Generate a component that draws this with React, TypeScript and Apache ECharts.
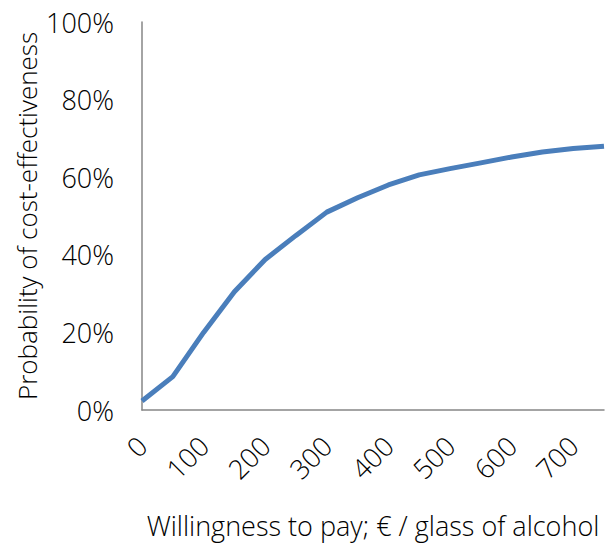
import React, { useEffect, useRef } from "react";
import * as echarts from "echarts";

const categories = ["0", "50", "100", "150", "200", "250", "300", "350", "400", "450", "500", "550", "600", "650", "700", "750"];
const probability = [2.3, 8.6, 20, 30.5, 38.8, 45, 51, 54.7, 58, 60.6, 62.2, 63.7, 65.2, 66.5, 67.4, 68.0];
const yTitle = "Probability of cost-effectiveness";
const xTitle = "Willingness to pay; € / glass of alcohol";

const FONT = "'Open Sans', 'Noto Sans', sans-serif";

export default function App() {
  const ref = useRef<HTMLDivElement>(null);
  useEffect(() => {
    if (!ref.current) return;
    const chart = echarts.init(ref.current, null, { renderer: "svg" });
    chart.setOption({
      animation: false,
      backgroundColor: "#ffffff",
      grid: { left: 142, right: 5, top: 22, bottom: 133, containLabel: false },
      xAxis: {
        type: "category",
        data: categories,
        boundaryGap: false,
        axisLine: { lineStyle: { color: "#868686", width: 1.5 } },
        axisTick: { show: false },
        axisLabel: {
          interval: 1,
          rotate: 45,
          color: "#000",
          fontFamily: FONT,
          fontWeight: 300,
          fontSize: 27,
          margin: 31,
        },
        name: xTitle,
        nameLocation: "middle",
        nameGap: 102,
        nameMoveOverlap: false,
        nameTextStyle: { color: "#000", fontFamily: FONT, fontWeight: 300, fontSize: 27 },
        splitLine: { show: false },
      },
      yAxis: {
        type: "value",
        min: 0,
        max: 100,
        interval: 20,
        axisLine: { show: true, lineStyle: { color: "#868686", width: 1.5 } },
        axisTick: { show: false },
        splitLine: { show: false },
        axisLabel: {
          color: "#000",
          fontFamily: FONT,
          fontWeight: 300,
          fontSize: 27,
          margin: 28,
          formatter: (v: number) => v + "%",
        },
        name: yTitle,
        nameLocation: "middle",
        nameRotate: 90,
        nameGap: 102,
        nameMoveOverlap: false,
        nameTextStyle: { color: "#000", fontFamily: FONT, fontWeight: 300, fontSize: 26 },
      },
      series: [
        {
          type: "line",
          data: probability,
          symbol: "none",
          lineStyle: { color: "#4a7ebb", width: 5 },
        },
      ],
    });
    return () => chart.dispose();
  }, []);
  return <div ref={ref} style={{ width: 609, height: 544, position: "absolute", left: 0, top: 0 }} />;
}
